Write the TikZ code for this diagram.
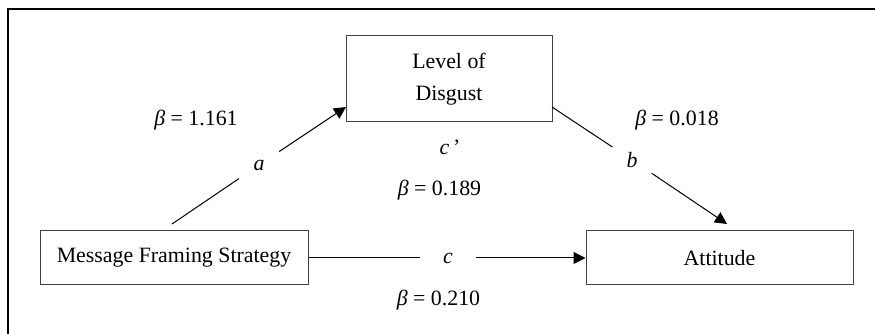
\documentclass[tikz,border=0pt]{standalone}
\usepackage{fontspec}
\setmainfont{Liberation Serif}
\usetikzlibrary{arrows.meta}

\begin{document}
\begin{tikzpicture}[x=0.75pt,y=-0.75pt,
  font=\fontsize{16.4}{24}\selectfont,
  var/.style={draw=black!75,line width=0.75pt,align=center,inner sep=0pt},
  gap/.style={circle,inner sep=0pt,font=\fontsize{16.4}{24}\selectfont\itshape},
  link/.style={line width=0.75pt},
  arr/.style={link,-{Triangle[length=9pt,width=9pt]}}]
\useasboundingbox (0,0) rectangle (875,334);
\draw[line width=1.5pt] (8,340) -- (8,9) -- (880,9);

% Variables (manual placement)
\node[var,minimum width=201pt,minimum height=40.5pt] (mfs) at (174,258) {Message Framing Strategy};
\node[var,minimum width=154.5pt,minimum height=64.5pt] (lod) at (449,79) {Level of\\Disgust};
\node[var,minimum width=200.25pt,minimum height=40.5pt] (att) at (719.5,258) {Attitude};

% free ends of the paths
\coordinate (a0) at (172,224);
\coordinate (a1) at (346,107);
\coordinate (b0) at (552,107);
\coordinate (b1) at (727,224);

% path labels, cutting the lines
\node[gap,minimum size=36pt] (la) at (259,165) {a};
\node[gap,minimum size=35pt] (lb) at (632,160) {b};
\node[gap,minimum size=42pt] (lc) at (448,258) {c};

\draw[link] (a0) -- (la);
\draw[arr] (la) -- (a1);
\draw[link] (b0) -- (lb);
\draw[arr] (lb) -- (b1);
\draw[link] (mfs) -- (lc);
\draw[arr] (lc) -- (att);

% coefficients
\node (ba) at (196,120) {{\itshape β} = 1.161};
\node (bb) at (677,120) {{\itshape β} = 0.018};
\node (lcp) at (450,147) {{\itshape c}\,’};
\node (bcp) at (439.5,190) {{\itshape β} = 0.189};
\node (bc) at (438.5,300) {{\itshape β} = 0.210};
\end{tikzpicture}
\end{document}
